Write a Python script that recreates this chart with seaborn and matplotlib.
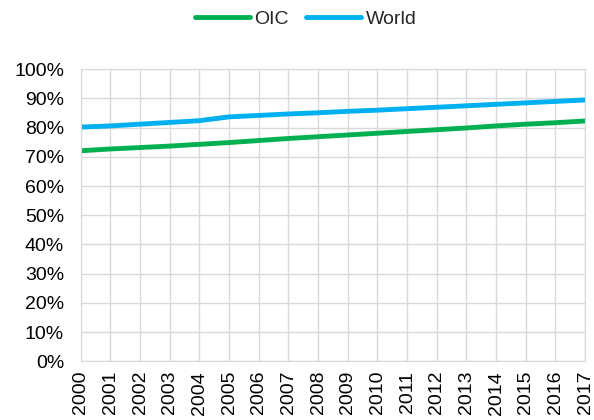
import matplotlib
matplotlib.use("Agg")
import matplotlib.pyplot as plt
import pandas as pd
import seaborn as sns
from matplotlib.ticker import PercentFormatter

years = list(range(2000, 2018))
oic = [72.1, 72.7, 73.2, 73.7, 74.3, 74.9, 75.6, 76.3, 76.9, 77.5,
       78.1, 78.7, 79.3, 79.9, 80.6, 81.2, 81.7, 82.3]
world = [80.2, 80.6, 81.2, 81.8, 82.4, 83.7, 84.2, 84.7, 85.1, 85.6,
         86.0, 86.5, 87.0, 87.5, 88.0, 88.5, 89.0, 89.5]
series_names = ["OIC", "World"]
colors = ["#00B050", "#00B0F0"]

df = pd.DataFrame({"year": years * 2,
                   "value": oic + world,
                   "series": ["OIC"] * len(years) + ["World"] * len(years)})

sns.set_style("white")
plt.rcParams["font.family"] = ["Liberation Sans", "DejaVu Sans"]

fig, ax = plt.subplots(figsize=(5.94, 4.2), dpi=100)
fig.subplots_adjust(left=0.136, right=0.985, top=0.835, bottom=0.14)

sns.lineplot(data=df, x="year", y="value", hue="series", hue_order=series_names,
             palette=colors, linewidth=3.5, ax=ax)

ax.set_xlim(2000, 2017)
ax.set_ylim(0, 100)
ax.set_xticks(years)
ax.set_xticklabels([str(y) for y in years], rotation=90)
ax.set_yticks(range(0, 101, 10))
ax.yaxis.set_major_formatter(PercentFormatter(decimals=0))
ax.tick_params(axis="y", labelsize=14, length=0, pad=12, labelcolor="black")
ax.tick_params(axis="x", labelsize=14, length=0, pad=7, labelcolor="black")
ax.grid(True, color="#d9d9d9", linewidth=1)
ax.set_axisbelow(True)
for s in ax.spines.values():
    s.set_color("#d9d9d9")
ax.set_xlabel("")
ax.set_ylabel("")

# legend centred on the figure, not the axes
ax.get_legend().remove()
handles, labels = ax.get_legend_handles_labels()
fig.legend(handles, labels, loc="center", bbox_to_anchor=(0.515, 0.955), ncol=2,
           frameon=False, fontsize=14, handlelength=2.8, handletextpad=0.25,
           columnspacing=0.9)

fig.savefig("out.png", dpi=100)
